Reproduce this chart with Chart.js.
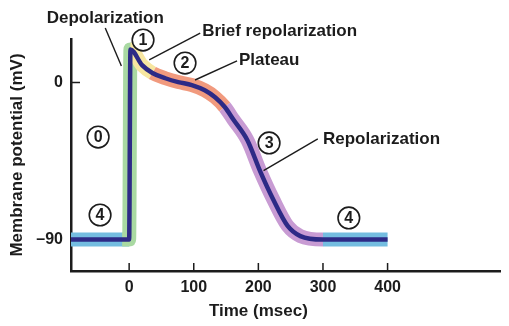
<!DOCTYPE html>
<html>
<head>
<meta charset="utf-8">
<script src="https://cdn.jsdelivr.net/npm/chart.js@4.4.1/dist/chart.umd.min.js"></script>
<style>
  html, body { margin: 0; padding: 0; background: #fff; }
  #wrap { width: 509px; height: 326px; }
</style>
</head>
<body>
<div id="wrap"><canvas id="apChart"></canvas></div>
<script>
// ventricular action potential (ms / mV)
const timeMs = [-90, 0, 2, 20, 36, 56, 76, 97, 117, 133, 148, 161, 183, 203, 223, 245, 265, 300, 400];
const voltageMv = [-90, -90, 19, 10, 5.5, 2.5, 0.3, -1.4, -4.4, -8.4, -14, -21, -33, -51, -67, -82, -88, -90, -90];

// where each phase band starts (ms) and its colour: 4, 0, 1, 2, 3, 4
const phaseStarts = [0, 2, 36, 148, 300];
const phaseColors = ['#74bde0', '#a9d9a2', '#f7e6a0', '#f19a7e', '#c89bd3', '#74bde0'];

const xTicks = [0, 100, 200, 300, 400];
const yTicks = [-90, 0];

const ink = '#1c1c1c';
const fontFamily = '"Liberation Sans", Arial, sans-serif';
Chart.defaults.font.family = fontFamily;
Chart.defaults.color = ink;

function phaseOf(t) {
    let i = 0;
    while (i < phaseStarts.length && t >= phaseStarts[i]) i++;
    return i;
}

const points = timeMs.map((t, i) => ({ x: t, y: voltageMv[i] }));

// annotation text, leader lines and circled phase numbers (in data units)
const notes = [
    { text: 'Depolarization', t: -37, v: 37, align: 'center' },
    { text: 'Brief repolarization', t: 113, v: 29.6, align: 'left' },
    { text: 'Plateau', t: 170, v: 13, align: 'left' },
    { text: 'Repolarization', t: 300, v: -32.3, align: 'left' }
];
const leaders = [
    [-37, 31.3, -12, 9.5],
    [110, 28.4, 31, 13],
    [167, 12.4, 102, 1.5],
    [292, -32.3, 208, -50.5]
];
const phaseMarks = [
    { n: '0', t: -48, v: -31.2 },
    { n: '1', t: 21.5, v: 24.4 },
    { n: '2', t: 86.5, v: 11.2 },
    { n: '3', t: 216.6, v: -34.6 },
    { n: '4', t: -45, v: -75.9 },
    { n: '4', t: 340, v: -77.6 }
];

// small tick marks drawn inside the axes
const tickMarks = {
    id: 'tickMarks',
    beforeDatasetsDraw(chart) {
        const { ctx, chartArea } = chart;
        const xs = chart.scales.x, ys = chart.scales.y;
        ctx.save();
        ctx.strokeStyle = ink;
        ctx.lineWidth = 1.5;
        ctx.beginPath();
        xTicks.forEach(t => {
            const x = xs.getPixelForValue(t);
            ctx.moveTo(x, chartArea.bottom);
            ctx.lineTo(x, chartArea.bottom - 8);
        });
        yTicks.forEach(v => {
            const y = ys.getPixelForValue(v);
            ctx.moveTo(chartArea.left, y);
            ctx.lineTo(chartArea.left + 9, y);
        });
        ctx.stroke();
        ctx.restore();
    }
};

const annotations = {
    id: 'annotations',
    afterDatasetsDraw(chart) {
        const { ctx, chartArea } = chart;
        const xs = chart.scales.x, ys = chart.scales.y;
        const px = t => xs.getPixelForValue(t);
        const py = v => ys.getPixelForValue(v);
        ctx.save();

        ctx.strokeStyle = ink;
        ctx.lineWidth = 1.4;
        leaders.forEach(l => {
            ctx.beginPath();
            ctx.moveTo(px(l[0]), py(l[1]));
            ctx.lineTo(px(l[2]), py(l[3]));
            ctx.stroke();
        });

        ctx.fillStyle = ink;
        ctx.textBaseline = 'middle';
        ctx.font = 'bold 17px ' + fontFamily;
        notes.forEach(n => {
            ctx.textAlign = n.align;
            ctx.fillText(n.text, px(n.t), py(n.v));
        });

        ctx.font = 'bold 16px ' + fontFamily;
        ctx.textAlign = 'center';
        phaseMarks.forEach(m => {
            const x = px(m.t), y = py(m.v);
            ctx.beginPath();
            ctx.arc(x, y, 10.8, 0, Math.PI * 2);
            ctx.fillStyle = '#fff';
            ctx.fill();
            ctx.lineWidth = 1.6;
            ctx.stroke();
            ctx.fillStyle = ink;
            ctx.fillText(m.n, x, y + 1);
        });

        // x title sits under the 200 ms tick, as in the figure
        ctx.font = 'bold 17px ' + fontFamily;
        ctx.fillText('Time (msec)', px(200), chartArea.bottom + 40);
        ctx.restore();
    }
};

new Chart(document.getElementById('apChart'), {
    type: 'line',
    data: {
        datasets: [{
            // coloured phase band (drawn underneath)
            data: points,
            order: 2,
            borderWidth: 14,
            borderColor: phaseColors[0],
            cubicInterpolationMode: 'monotone',
            pointRadius: 0,
            segment: {
                borderColor: ctx => phaseColors[phaseOf(ctx.p0.parsed.x)],
                borderCapStyle: ctx => phaseOf(ctx.p0.parsed.x) === 1 ? 'square' : 'butt'
            }
        }, {
            // dark trace on top
            data: points,
            order: 1,
            borderWidth: 4.5,
            borderColor: '#2d2a86',
            borderJoinStyle: 'miter',
            cubicInterpolationMode: 'monotone',
            pointRadius: 0
        }]
    },
    options: {
        responsive: true,
        maintainAspectRatio: false,
        animation: false,
        layout: { padding: { top: 39, right: 9, left: 0, bottom: 0 } },
        plugins: {
            legend: { display: false },
            tooltip: { enabled: false }
        },
        scales: {
            x: {
                type: 'linear',
                min: -90,
                max: 574,
                grid: { display: false, drawTicks: false },
                border: { display: true, color: ink, width: 2.5 },
                afterBuildTicks: scale => { scale.ticks = xTicks.map(v => ({ value: v })); },
                afterFit: scale => { scale.height = 55; },
                ticks: {
                    font: { size: 16, weight: 'bold' },
                    padding: 7,
                    maxRotation: 0,
                    autoSkip: false
                }
            },
            y: {
                min: -108,
                max: 25,
                grid: { display: false, drawTicks: false },
                border: { display: true, color: ink, width: 2.5 },
                afterBuildTicks: scale => { scale.ticks = yTicks.map(v => ({ value: v })); },
                afterFit: scale => { scale.width = 71; },
                ticks: {
                    font: { size: 16, weight: 'bold' },
                    padding: 8,
                    callback: v => v < 0 ? '\u2013' + Math.abs(v) : String(v)
                },
                title: {
                    display: true,
                    text: 'Membrane potential (mV)',
                    font: { size: 17, weight: 'bold' },
                    padding: { top: 7, bottom: 0 }
                }
            }
        }
    },
    plugins: [tickMarks, annotations]
});
</script>
</body>
</html>
